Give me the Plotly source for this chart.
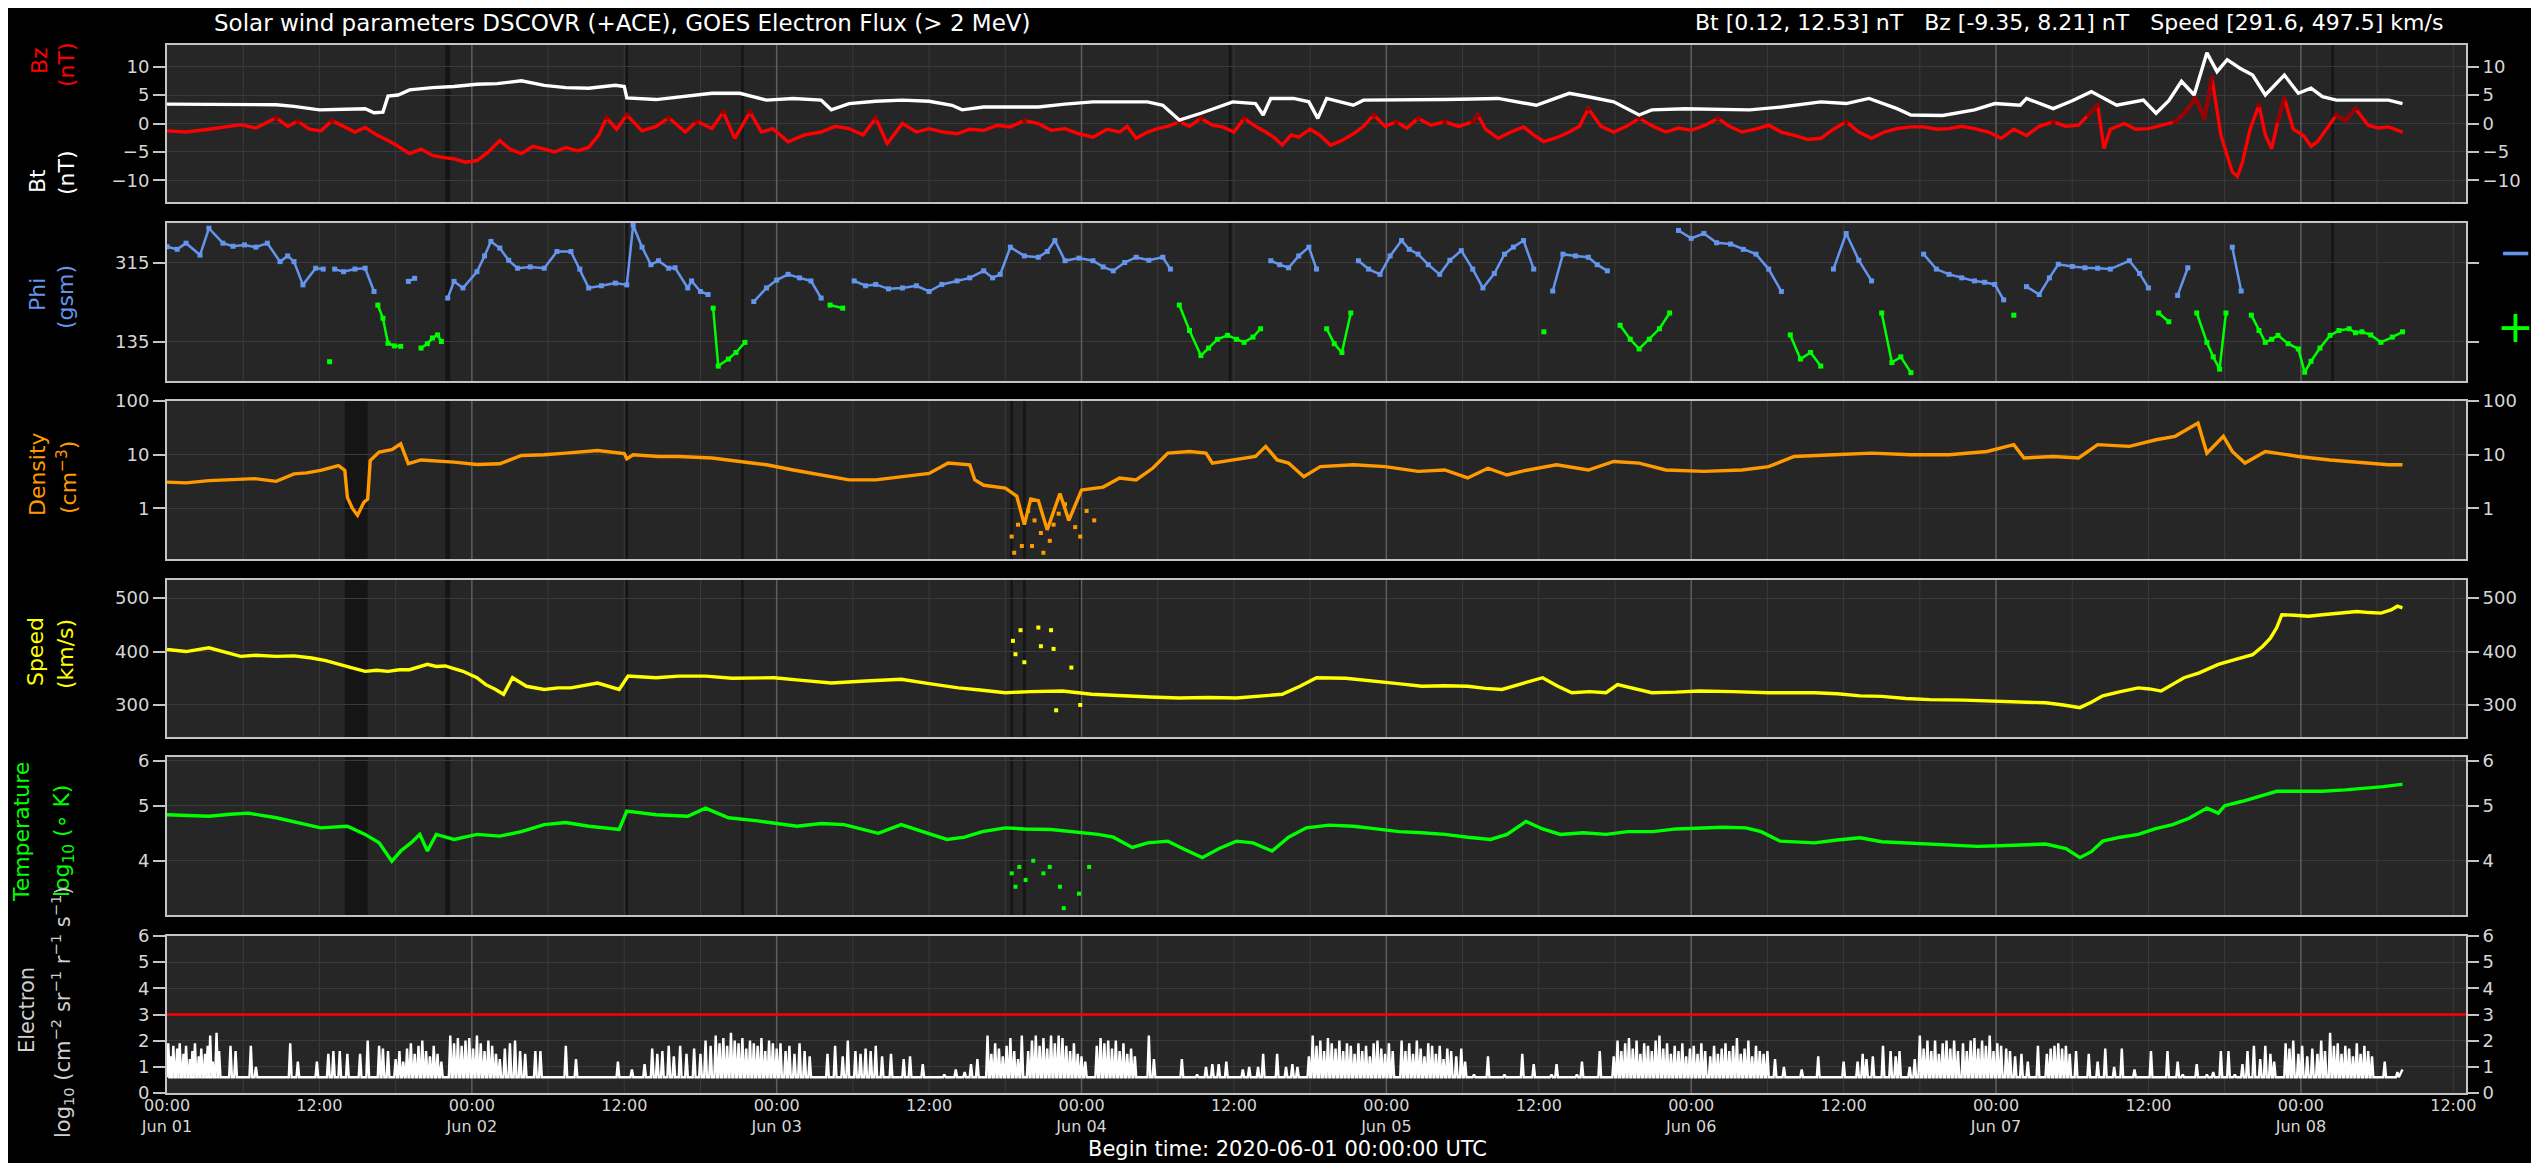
import numpy as np
import pandas as pd
import plotly.graph_objects as go

T0 = pd.Timestamp("2020-06-01 00:00")
T_END = pd.Timestamp("2020-06-08 13:00")

# ---------------- data (hours since 2020-06-01 00:00 UTC) ----------------
bt_t = [0, 3, 6, 8.6, 10, 12, 14, 15.6, 16.3, 17.0, 17.4, 18.2, 19.1, 20.9, 22.6, 24.4, 26, 27.9, 29.7, 31.4,
        33.2, 35.3, 36.0, 36.2, 38.5, 40.8, 42.9, 45.1, 47.2, 49.3, 51.5, 52.3, 53.7, 55.8, 57.9, 60, 61.8, 62.6,
        64.3, 66.5, 68.6, 70.7, 72.9, 75, 77.2, 78.4, 79.7, 81.4, 82.7, 83.9, 85.7, 86.3, 86.9, 88.7, 89.9, 90.6,
        91.3, 93.4, 94.2, 96.3, 98.5, 100.6, 102.8, 104.8, 107.8, 110.4, 111.9, 113.9, 115.9, 116.9, 119.5, 122.1,
        124.6, 127.1, 130.2, 132.2, 134, 136.2, 137.3, 139.8, 142.3, 143.9, 145.9, 146.4, 148.5, 150, 151.5, 153.5,
        155.6, 156.6, 157.6, 158.6, 159.6, 160.6, 161.4, 162.2, 163.2, 164.2, 165.2, 166.7, 167.8, 168.8, 169.7,
        170.8, 172.8, 174.9, 176]
bt_v = [3.4, 3.4, 3.3, 3.3, 3.0, 2.4, 2.5, 2.6, 1.9, 2.0, 4.8, 5.0, 5.9, 6.3, 6.5, 6.9, 7.0, 7.5, 6.7, 6.3,
        6.2, 6.7, 6.5, 4.5, 4.2, 4.8, 5.3, 5.3, 4.1, 4.4, 4.1, 2.4, 3.5, 3.9, 4.1, 3.9, 3.2, 2.4,
        2.9, 2.9, 2.9, 3.4, 3.8, 3.8, 3.8, 3.2, 0.6, 1.8, 2.9, 3.8, 3.5, 1.5, 4.4, 4.4, 3.8, 0.9,
        4.4, 3.2, 4.1, 4.1, 4.1, 4.2, 4.3, 4.4, 3.2, 5.3, 4.7, 3.8, 1.5, 2.4, 2.6, 2.5,
        2.4, 2.9, 3.8, 3.5, 4.4, 2.6, 1.5, 1.4, 2.4, 3.5, 3.2, 4.4, 2.6, 4.0, 5.6, 3.2,
        4.1, 1.8, 4.0, 7.4, 5.0, 12.4, 9.1, 11.2, 9.7, 8.5, 5.0, 8.5, 5.3, 6.2, 4.7,
        4.1, 4.1, 4.1, 3.5]

bz_t = [0, 1.5, 3.3, 5, 5.8, 7, 8.6, 9.5, 10.3, 11.2, 12.1, 13.0, 13.9, 14.8, 15.6, 16.5, 17.4, 18.2, 19.1, 20.0,
        20.9, 21.8, 22.6, 23.5, 24.4, 25.3, 26.2, 27.0, 27.9, 28.8, 29.7, 30.5, 31.4, 32.3, 33.2, 34.0, 34.6, 35.4,
        36.2, 37.4, 38.5, 39.5, 40.8, 41.7, 42.9, 43.8, 44.7, 45.9, 46.8, 47.7, 48.9, 50.2, 51.5, 52.6, 53.7, 54.8,
        55.8, 56.7, 57.9, 59.0, 60.0, 61.1, 62.2, 63.2, 64.3, 65.4, 66.4, 67.5, 68.6, 69.6, 70.7, 71.8, 72.9, 74.0,
        75.0, 75.6, 76.3, 77.2, 78.0, 78.9, 79.7, 80.5, 81.4, 82.3, 83.1, 84.0, 84.8, 85.7, 86.5, 87.2, 87.8, 88.5,
        89.1, 90.0, 90.8, 91.6, 92.5, 93.4, 94.2, 95.0, 95.9, 96.8, 97.6, 98.5, 99.5, 100.6, 101.7, 102.8, 103.2,
        103.8, 104.8, 105.8, 106.8, 107.6, 108.4, 109.4, 110.4, 111.2, 111.9, 112.9, 113.9, 114.9, 115.9, 117.0,
        118.0, 119.0, 120.0, 121.1, 122.1, 123.0, 124.0, 125.1, 126.1, 127.1, 128.1, 129.2, 130.2, 131.2, 132.2,
        133.2, 134.2, 135.2, 136.2, 137.3, 138.3, 139.3, 140.3, 141.3, 142.3, 143.4, 144.4, 145.4, 146.4, 147.4,
        148.5, 149.5, 150.5, 151.3, 152.0, 152.5, 153.0, 154.1, 155.0, 156.0, 157.0, 158.1, 158.9, 159.7, 160.4,
        161.0, 161.7, 162.2, 162.6, 163.0, 163.4, 164.0, 164.7, 165.2, 165.7, 166.2, 166.7, 167.4, 168.2, 168.8,
        169.3, 170.0, 170.8, 171.5, 172.3, 173.3, 174.1, 174.9, 176]
bz_v = [-1.3, -1.5, -1.0, -0.5, -0.2, -0.8, 1.0, -0.5, 0.4, -1.0, -1.3, 0.5, -0.5, -1.5, -0.7, -2.0, -3.0, -4.0, -5.3, -4.5,
        -5.6, -6.0, -6.2, -6.8, -6.5, -5.0, -3.0, -4.5, -5.3, -4.0, -4.5, -5.0, -4.2, -4.8, -4.2, -2.0, 1.0, -1.0,
        1.5, -1.3, -0.5, 1.0, -1.5, 0.4, -0.9, 2.0, -2.6, 2.0, -1.5, -0.9, -3.2, -2.0, -1.5, -0.5, -0.9, -2.0,
        0.9, -3.5, 0.0, -1.5, -0.9, -1.5, -1.8, -1.0, -1.2, -0.3, -0.6, 0.5, 0.0, -1.2, -0.9, -1.8, -2.4, -1.0,
        -1.5, -0.5, -2.6, -1.5, -0.9, -0.4, 0.3, -0.5, 0.9, -0.3, -0.6, -1.5, 0.9, -0.5, -1.5, -2.5, -3.8, -2.0,
        -2.4, -1.0, -2.1, -3.8, -3.0, -1.8, -0.5, 1.5, -0.5, 0.3, -0.8, 0.9, -0.3, 0.3, -0.5, 0.3, 1.5,
        -1.0, -2.6, -1.5, -0.6, -2.0, -3.2, -2.5, -1.5, -0.5, 2.6, -0.5, -1.5, -0.5, 0.9, -0.5,
        -1.5, -0.8, -1.2, -0.3, 0.9, -0.5, -1.5, -1.0, -0.3, -1.5, -2.1, -2.8, -2.6, -1.0, 0.3,
        -1.5, -2.6, -1.5, -0.9, -0.6, -0.6, -1.0, -0.9, -0.5, -0.9, -1.5, -2.6, -1.0, -2.1, -0.5,
        0.3, -0.5, -0.3, 1.5, 3.2, -4.4, -1.0, 0.0, -1.0, -0.9, -0.3, 0.3, 2.0, 4.4, 1.0,
        8.0, -2.0, -5.6, -8.5, -9.3, -6.8, -1.0, 3.2, -2.0, -4.4, 0.5, 4.4, -1.0, -2.1, -4.0,
        -3.2, -1.0, 1.5, 0.5, 2.6, -0.3, -0.8, -0.6, -1.5]

phi_t = [0, 0.8, 1.5, 2.6, 3.3, 4.4, 5.2, 6.1, 7.0, 7.9, 8.9, 9.5, 10.0, 10.7, 11.7, 12.3, 12.8, 13.2, 13.9, 14.8,
         15.6, 16.3, 16.6, 17.0, 17.4, 17.9, 18.4, 19.0, 19.5, 20.0, 20.5, 20.9, 21.3, 21.6, 22.1, 22.6, 23.3, 24.4,
         25.0, 25.5, 26.2, 26.9, 27.6, 28.6, 29.7, 30.7, 31.8, 32.5, 33.2, 34.2, 35.3, 36.2, 36.7, 37.4, 38.1, 38.7,
         39.5, 40.0, 41.0, 41.3, 42.0, 42.6, 43.0, 43.4, 44.2, 44.8, 45.5, 46.2, 47.2, 48.0, 48.9, 49.8, 50.7, 51.5,
         52.2, 53.2, 54.1, 55.0, 55.8, 56.8, 57.9, 59.0, 60.0, 61.0, 62.2, 63.2, 64.3, 65.0, 65.6, 66.4, 67.5, 68.6,
         69.3, 69.9, 70.7, 71.8, 72.9, 73.7, 74.5, 75.4, 76.3, 77.3, 78.4, 79.0, 79.7, 80.5, 81.4, 82.0, 82.7, 83.5,
         84.2, 84.8, 85.5, 86.1, 86.9, 87.6, 88.3, 89.1, 89.9, 90.5, 91.3, 91.9, 92.5, 93.2, 93.8, 94.6, 95.5, 96.3,
         97.2, 97.8, 98.5, 99.3, 100.2, 101.0, 101.9, 102.8, 103.6, 104.5, 105.3, 106.0, 106.8, 107.6, 108.4, 109.1,
         109.9, 110.9, 111.9, 112.6, 113.4, 114.4, 115.2, 115.9, 116.7, 117.5, 118.3, 119.0, 120.0, 121.0, 122.0,
         123.1, 124.1, 125.1, 126.1, 127.1, 127.8, 128.6, 129.4, 130.2, 131.2, 132.2, 133.2, 134.2, 135.0, 135.8,
         136.5, 137.3, 138.3, 139.3, 140.3, 141.3, 142.3, 143.1, 143.9, 144.6, 145.4, 146.4, 147.4, 148.2, 148.9,
         150.0, 151.0, 152.0, 153.0, 154.5, 155.3, 156.0, 156.8, 157.6, 158.3, 159.1, 159.8, 160.6, 161.1, 161.6,
         162.1, 162.6, 163.3, 164.1, 164.7, 165.2, 165.7, 166.2, 167.0, 167.8, 168.3, 168.8, 169.5, 170.3, 171.0,
         171.8, 172.3, 172.8, 173.5, 174.3, 175.2, 176]
phi_v = [351, 345, 359, 332, 393, 359, 352, 355, 350, 359, 317, 330, 317, 264, 302, 300, 89, 300, 294, 300,
         302, 249, 218, 188, 131, 125, 124, 272, 279, 120, 130, 143, 150, 135, 234, 272, 257, 294,
         330, 363, 348, 320, 302, 305, 302, 340, 340, 300, 257, 262, 268, 264, 400, 350, 310, 319,
         302, 303, 257, 273, 249, 242, 211, 79, 95, 110, 133, 226, 257, 275, 288, 280, 273, 234,
         218, 211, 273, 262, 265, 255, 257, 262, 249, 265, 273, 280, 296, 280, 288, 350, 330, 327,
         340, 365, 319, 325, 319, 305, 296, 315, 327, 320, 327, 300, 218, 160, 103, 120, 140, 149,
         140, 133, 145, 164, 319, 310, 303, 330, 350, 300, 164, 130, 110, 200, 319, 300, 288, 330,
         365, 345, 334, 310, 288, 320, 342, 300, 257, 290, 334, 350, 365, 300, 157, 250,
         334, 330, 327, 310, 296, 172, 140, 118, 140, 164, 200, 388, 370, 381, 360,
         357, 345, 334, 300, 249, 150, 95, 110, 79, 300, 381, 320, 273, 200, 87,
         100, 64, 334, 300, 288, 280, 273, 270, 265, 230, 195, 260, 242, 280, 311,
         306, 303, 302, 300, 319, 290, 257, 200, 180, 240, 303, 200, 133, 100, 72,
         200, 350, 250, 195, 160, 133, 140, 149, 130, 118, 65, 90, 120, 149, 160,
         164, 155, 157, 150, 133, 145, 157]

dens_t = [0, 1.5, 3.3, 5.0, 6.9, 8.6, 10.0, 11.0, 12.1, 13.5, 14.0, 14.2, 14.6, 15.0, 15.5, 15.8, 16.0, 16.7, 17.7,
          18.4, 19.0, 20.0, 20.9, 22.6, 24.4, 26.2, 27.9, 29.7, 31.4, 33.9, 36.0, 36.2, 36.7, 38.7, 40.3, 42.9, 45.1,
          47.2, 49.3, 51.5, 53.7, 55.8, 57.9, 60.0, 61.5, 63.2, 63.6, 64.3, 66.0, 66.9, 67.5, 68.0, 68.6, 69.3, 70.3,
          71.0, 72.0, 73.7, 75.0, 76.3, 77.6, 78.8, 80.5, 81.8, 82.3, 83.9, 85.7, 86.5, 87.4, 88.3, 89.5, 90.8, 93.4,
          95.9, 98.5, 100.6, 102.4, 104.0, 105.5, 106.8, 109.4, 111.9, 113.9, 115.9, 118.0, 121.0, 124.0, 126.1,
          128.1, 131.2, 134.2, 137.3, 140.3, 143.3, 145.4, 146.2, 148.5, 150.5, 152.0, 154.5, 156.6, 158.1, 159.9,
          160.6, 161.9, 162.6, 163.6, 165.2, 167.8, 170.3, 172.8, 174.9, 176]
dens_v = [3.1, 3.0, 3.3, 3.4, 3.6, 3.2, 4.4, 4.6, 5.1, 6.3, 5.1, 1.6, 1.0, 0.75, 1.3, 1.5, 7.8, 11.2, 12.4,
          16.0, 6.8, 8.0, 7.8, 7.3, 6.6, 6.8, 9.7, 10.0, 10.7, 12.0, 10.5, 8.4, 10.0, 9.3, 9.3, 8.7, 7.5,
          6.5, 5.2, 4.2, 3.4, 3.4, 3.9, 4.5, 7.0, 6.5, 3.4, 2.7, 2.4, 1.7, 0.5, 1.5, 1.4, 0.4, 1.9,
          0.6, 2.2, 2.5, 3.7, 3.4, 5.6, 10.7, 11.5, 10.7, 7.0, 8.0, 9.3, 14.3, 8.0, 7.0, 3.9, 6.0, 6.5,
          6.0, 4.9, 5.2, 3.7, 5.6, 4.2, 5.0, 6.5, 5.2, 7.5, 7.0, 5.2, 4.9, 5.2, 6.0,
          9.3, 10.0, 10.7, 10.0, 10.0, 11.5, 15.4, 8.7, 9.3, 8.7, 15.4, 14.3, 19.0, 22.0, 39.0,
          10.7, 22.0, 11.5, 7.0, 11.5, 9.3, 8.0, 7.2, 6.5, 6.5]
dens_sc_t = [66.5, 67.0, 67.3, 67.8, 68.3, 68.8, 69.5, 69.8, 70.2, 70.7, 71.5, 71.9, 72.4, 73.0, 66.7, 68.1, 69.0]
dens_sc_v = [0.3, 0.5, 0.2, 0.9, 0.6, 0.35, 0.25, 0.5, 0.8, 1.2, 0.45, 0.3, 0.9, 0.6, 0.15, 0.2, 0.15]

spd_t = [0, 1.5, 3.3, 4.5, 5.8, 7.0, 8.6, 10.0, 11.4, 12.5, 13.5, 14.5, 15.6, 16.5, 17.4, 18.3, 19.1, 20.5, 21.2,
         21.9, 23.3, 24.4, 25.1, 25.8, 26.5, 27.2, 28.3, 29.7, 30.8, 31.8, 33.9, 35.6, 36.3, 38.5, 40.3, 42.4, 44.5,
         47.8, 50.0, 52.3, 55.0, 57.8, 60.0, 62.3, 64.0, 66.0, 68.0, 70.5, 72.8, 75.1, 77.4, 79.7, 82.0, 84.2, 86.0,
         87.8, 89.2, 90.5, 92.8, 95.1, 96.9, 98.8, 100.6, 102.4, 103.8, 105.1, 106.8, 108.3, 109.5, 110.6, 112.0,
         113.3, 114.2, 115.5, 116.9, 118.8, 120.6, 123.3, 126.1, 129.7, 131.5, 133.3, 135.0, 136.9, 138.8, 141.5,
         144.3, 146.1, 147.9, 149.3, 150.6, 151.5, 152.4, 153.8, 155.2, 156.1, 157.0, 158.0, 158.8, 160.0, 161.5,
         162.8, 164.2, 165.0, 165.6, 166.1, 166.5, 167.5, 168.6, 169.7, 171.0, 172.4, 173.4, 174.3, 175.1, 175.6, 176]
spd_v = [404, 400, 407, 400, 391, 393, 391, 392, 388, 383, 376, 370, 363, 365, 363, 366, 366, 376, 372,
         373, 363, 351, 338, 330, 320, 351, 335, 329, 332, 332, 341, 329, 354, 351, 354, 354, 350,
         351, 346, 341, 345, 348, 340, 332, 328, 323, 325, 326, 320, 317, 315, 313, 314, 313, 316,
         320, 335, 351, 350, 345, 340, 335, 336, 335, 331, 329, 340, 351, 335, 323, 325,
         323, 338, 330, 323, 324, 326, 325, 323, 323, 321, 317, 316, 312, 310, 309,
         307, 306, 304, 300, 295, 305, 317, 325, 332, 330, 326, 340, 351, 360, 376,
         385, 394, 410, 425, 445, 469, 468, 466, 469, 472, 475, 473, 472, 478, 485, 482]
spd_sc_t = [66.6, 66.8, 67.2, 67.5, 68.6, 68.8, 69.6, 69.8, 70.0, 71.2, 71.9]
spd_sc_v = [420, 395, 440, 380, 445, 410, 440, 405, 290, 370, 300]

temp_t = [0, 1.5, 3.3, 5.0, 6.4, 8.6, 10.3, 12.1, 14.2, 15.6, 16.7, 17.3, 17.7, 18.4, 19.2, 19.9, 20.5, 21.2,
          22.6, 24.4, 26.2, 27.9, 29.7, 31.4, 33.2, 35.6, 36.2, 38.5, 41.0, 42.4, 44.2, 46.5, 49.6, 51.5, 53.3,
          56.0, 57.8, 59.5, 61.4, 62.8, 64.2, 66.0, 67.5, 69.6, 71.5, 73.3, 74.5, 76.0, 77.2, 78.8, 80.0, 81.5,
          82.8, 84.2, 85.5, 87.0, 88.3, 89.7, 91.5, 93.4, 95.2, 97.0, 98.8, 100.6, 102.4, 104.2, 105.5, 107.0,
          108.3, 109.7, 111.5, 113.3, 115.0, 117.0, 118.8, 120.6, 122.5, 124.3, 125.5, 127.0, 128.5, 129.7, 131.5,
          133.3, 135.0, 137.0, 138.8, 140.6, 142.5, 144.3, 146.0, 147.9, 149.5, 150.6, 151.5, 152.4, 153.8, 155.2,
          156.5, 157.9, 159.2, 160.6, 161.5, 162.0, 163.4, 164.8, 166.1, 167.8, 169.7, 171.5, 173.4, 174.5, 175.6, 176]
temp_v = [4.82, 4.80, 4.79, 4.83, 4.85, 4.76, 4.67, 4.57, 4.60, 4.45, 4.30, 4.10, 3.99, 4.16, 4.30, 4.45, 4.16, 4.45,
          4.36, 4.45, 4.42, 4.50, 4.63, 4.67, 4.60, 4.54, 4.89, 4.82, 4.79, 4.95, 4.76, 4.70, 4.60, 4.65, 4.63,
          4.47, 4.63, 4.50, 4.36, 4.40, 4.50, 4.57, 4.55, 4.54, 4.50, 4.45, 4.40, 4.22, 4.30, 4.33, 4.20, 4.05,
          4.20, 4.33, 4.30, 4.16, 4.40, 4.57, 4.62, 4.60, 4.55, 4.50, 4.48, 4.45, 4.40, 4.36, 4.45, 4.69,
          4.55, 4.45, 4.48, 4.45, 4.50, 4.50, 4.55, 4.57, 4.58, 4.57, 4.50, 4.33, 4.32, 4.30, 4.35,
          4.39, 4.32, 4.30, 4.28, 4.25, 4.24, 4.25, 4.27, 4.28, 4.20, 4.05, 4.15, 4.33, 4.40, 4.45,
          4.55, 4.63, 4.75, 4.95, 4.85, 5.00, 5.09, 5.20, 5.30, 5.30, 5.30, 5.33, 5.37, 5.40, 5.44, 5.45]
temp_sc_t = [66.5, 66.8, 67.1, 67.6, 68.2, 69.0, 69.5, 70.3, 70.6, 71.8, 72.6]
temp_sc_v = [3.8, 3.6, 3.9, 3.7, 4.0, 3.8, 3.9, 3.6, 3.3, 3.5, 3.9]

elec_base = 0.6
elec_spike_t = [0.1, 0.3, 0.5, 0.8, 1.0, 1.3, 1.5, 1.8, 2.0, 2.2, 2.5, 2.7, 3.0, 3.2, 3.4, 3.6, 3.9, 4.1,
    5.0, 5.4, 6.6, 7.0, 9.7, 10.3, 11.8, 12.7, 13.1, 13.6, 14.2, 15.2, 15.8, 16.7, 17.0, 17.4,
    18.0, 18.3, 18.6, 18.9, 19.2, 19.5, 19.8, 20.1, 20.4, 20.7, 21.0, 21.3, 21.6,
    22.3, 22.6, 22.9, 23.2, 23.5, 23.8, 24.1, 24.4, 24.7, 25.0, 25.3, 25.6, 25.9, 26.2,
    26.6, 27.0, 27.4, 27.8, 28.2, 29.0, 29.4, 31.4, 32.2, 35.5, 36.6, 37.6,
    38.2, 38.6, 39.0, 39.5, 39.9, 40.4, 40.9, 41.5,
    42.0, 42.4, 42.8, 43.2, 43.5, 43.8, 44.1, 44.4, 44.7, 45.0, 45.3, 45.6, 45.9, 46.2, 46.5, 46.8, 47.1, 47.4,
    47.7, 48.0, 48.3, 48.7, 49.0, 49.4, 49.8, 50.2, 50.6,
    52.0, 52.6, 53.2, 53.6, 54.2, 54.6, 55.0, 55.4, 55.8, 56.3, 57.0,
    58.0, 58.5, 59.5, 61.2, 62.1, 62.8, 63.3, 63.8,
    64.6, 64.9, 65.2, 65.5, 65.8, 66.1, 66.4, 66.7, 67.0, 67.3,
    67.8, 68.1, 68.4, 68.7, 69.0, 69.3, 69.6, 69.9, 70.2, 70.5, 70.8, 71.1, 71.4, 71.7, 72.0, 72.3,
    73.2, 73.5, 73.8, 74.1, 74.4, 74.7, 75.0, 75.3, 75.6, 75.9, 76.2,
    77.3, 77.7, 79.9, 81.1, 81.8, 82.3, 82.8, 83.4, 84.7, 85.2, 85.9, 86.3, 87.4, 88.1, 88.6, 89.0,
    89.9, 90.2, 90.5, 90.8, 91.1, 91.4, 91.7, 92.0, 92.3, 92.6, 92.9, 93.2, 93.5, 93.8, 94.1, 94.4, 94.7,
    95.0, 95.3, 95.6, 95.9, 96.2, 96.5,
    97.2, 97.5, 97.8, 98.1, 98.4, 98.7, 99.0, 99.3, 99.6, 99.9, 100.2, 100.5, 100.8, 101.1, 101.5, 101.9, 102.2,
    102.9, 104.0, 105.3, 106.7, 107.6, 109.0, 109.4, 111.0, 111.4, 112.8,
    113.9, 114.2, 114.5, 114.8, 115.1, 115.4, 115.7, 116.0, 116.3, 116.6, 116.9, 117.2, 117.5, 117.8, 118.1,
    118.4, 118.7, 119.0, 119.3, 119.6, 119.9, 120.2, 120.5, 120.8, 121.1,
    121.5, 121.8, 122.1, 122.4, 122.7, 123.0, 123.3, 123.6, 123.9, 124.2, 124.5, 124.8, 125.1, 125.4, 125.7,
    126.0, 126.6,
    127.3, 128.7, 130.0, 132.0, 133.1, 133.5, 133.8, 134.3, 135.1, 135.7, 136.1, 136.4, 137.2, 137.6,
    138.0, 138.3, 138.6, 138.9, 139.2, 139.5, 139.8, 140.1, 140.4, 140.7, 141.0,
    141.4, 141.7, 142.0, 142.3, 142.6, 142.9, 143.2, 143.5, 143.8, 144.1, 144.4, 144.8,
    145.1, 145.5, 146.0, 146.5, 147.3, 148.0, 148.3, 148.6, 148.9, 149.2, 149.5, 149.8, 150.3, 151.3, 152.0,
    152.6, 153.3, 153.9, 154.9, 156.2, 157.5, 158.3, 158.7, 159.8, 160.6, 161.1, 161.7, 162.3, 162.8,
    163.4, 163.8, 164.3, 164.8, 165.2, 165.6, 165.9,
    166.8, 167.1, 167.4, 167.8, 168.1, 168.5, 168.9, 169.3,
    169.6, 169.9, 170.3, 170.6, 170.9, 171.2, 171.5, 171.8, 172.1, 172.4, 172.7, 173.0, 173.3, 173.6,
    174.6, 175.6]
elec_spike_v = [1.9, 1.4, 1.8, 1.7, 1.9, 1.5, 1.8, 1.3, 1.6, 1.9, 1.4, 1.7, 1.5, 1.8, 2.2, 1.2, 2.3, 1.6,
    1.8, 1.6, 1.8, 1.0, 1.9, 1.2, 1.2, 1.5, 1.6, 1.6, 1.5, 1.5, 2.0, 1.8, 1.7, 1.6,
    1.3, 1.6, 1.2, 1.7, 1.9, 1.5, 1.8, 2.0, 1.6, 1.4, 1.8, 1.5, 1.2,
    2.2, 1.9, 2.1, 1.8, 2.0, 2.1, 1.7, 2.2, 1.9, 1.6, 2.0, 1.8, 1.5, 1.3,
    1.7, 1.9, 2.0, 1.6, 1.5, 1.6, 1.6, 1.8, 1.3, 1.2, 0.9, 1.1,
    1.7, 1.5, 1.6, 1.8, 1.4, 1.8, 1.5, 1.7,
    1.5, 2.0, 1.8, 2.2, 1.9, 2.1, 1.8, 2.3, 2.0, 1.9, 2.1, 1.7, 2.0, 1.9, 1.8, 2.1, 1.6, 2.0,
    1.9, 1.7, 1.9, 1.6, 1.8, 1.5, 1.9, 1.6, 1.4,
    1.5, 1.8, 1.4, 2.0, 1.6, 1.5, 1.7, 1.6, 1.8, 1.4, 1.5,
    1.3, 1.4, 1.1, 0.7, 0.9, 0.8, 1.1, 1.3,
    2.2, 1.5, 1.9, 1.7, 1.4, 1.8, 2.1, 1.6, 1.3, 2.2,
    1.6, 2.0, 2.2, 1.8, 2.1, 1.7, 2.2, 1.9, 2.2, 2.1, 1.8, 1.6, 1.9, 1.5, 1.4, 1.2,
    1.8, 2.1, 1.9, 2.0, 1.7, 2.0, 1.6, 1.9, 1.5, 1.7, 1.4,
    2.2, 1.3, 1.3, 0.7, 1.0, 1.1, 1.1, 1.2, 0.9, 1.0, 1.0, 1.5, 1.5, 1.0, 1.1, 1.0,
    1.4, 2.2, 1.8, 2.0, 1.6, 2.1, 1.9, 1.7, 2.0, 1.6, 1.9, 1.8, 1.5, 1.9, 1.6, 1.8, 1.4,
    1.9, 2.0, 1.7, 1.5, 1.9, 1.6,
    2.0, 1.6, 1.9, 1.5, 2.0, 1.7, 1.4, 1.9, 1.8, 1.5, 1.8, 1.3, 1.7, 1.6, 1.4, 1.7, 1.2,
    0.7, 1.4, 0.7, 1.5, 1.1, 0.7, 1.1, 0.7, 1.2, 1.6,
    1.4, 2.0, 1.6, 1.9, 2.1, 1.7, 2.0, 1.5, 1.9, 1.8, 1.6, 2.0, 2.2, 1.7, 1.9,
    1.5, 1.8, 1.6, 1.9, 1.4, 1.7, 1.8, 1.5, 1.9, 1.6,
    1.4, 1.8, 1.5, 1.7, 1.9, 1.6, 1.8, 2.1, 1.5, 1.7, 2.0, 1.4, 1.8, 1.6, 1.5,
    1.6, 1.3,
    1.0, 0.9, 1.4, 1.2, 1.2, 1.5, 1.3, 1.4, 1.8, 1.6, 1.4, 1.6, 1.0, 1.3,
    2.2, 1.7, 2.0, 1.6, 2.0, 1.5, 1.9, 2.0, 1.7, 2.0, 1.6,
    1.9, 1.6, 2.0, 2.1, 1.7, 2.0, 1.8, 2.2, 1.6, 1.9, 1.8, 1.7,
    1.6, 1.4, 1.5, 1.2, 1.8, 1.5, 1.7, 1.8, 1.9, 1.7, 1.8, 1.5, 1.6, 1.5, 1.2,
    1.7, 1.0, 1.7, 0.9, 1.6, 1.6, 1.2, 0.7, 1.1, 0.7, 0.8, 1.6, 1.6, 0.7,
    1.1, 1.6, 1.8, 1.3, 1.8, 1.5, 1.2,
    1.9, 1.7, 2.0, 1.5, 1.8, 1.4, 1.7, 1.5,
    2.0, 1.6, 2.3, 1.8, 1.9, 1.5, 1.8, 1.7, 1.4, 1.9, 1.5, 1.8, 1.6, 1.4,
    1.2, 0.8]
elec_end_t = [176.0]
elec_end_v = [0.9]
elec_threshold = 3

# shaded data-gap / source bands (hours), panels they apply to
band_t0 = [14.0, 21.9, 36.1, 45.2, 66.4, 67.4, 71.8, 83.6, 170.4]
band_t1 = [15.8, 22.3, 36.3, 45.4, 66.6, 67.6, 72.0, 83.8, 170.6]
band_panels = [[3, 4, 5], [1, 2, 3, 4, 5], [1, 2, 3, 4, 5], [1, 2, 3, 4, 5], [3, 4, 5], [3, 4, 5], [3, 4, 5],
               [1, 2], [1, 2]]

# ---------------- helpers ----------------
def tt(hours):
    return [T0 + pd.Timedelta(hours=float(h)) for h in hours]

def xn(i):
    return "x" if i == 1 else "x%d" % i

def yn(i):
    return "y" if i == 1 else "y%d" % i

FONT = "DejaVu Sans, Noto Sans, sans-serif"
TICKC = "#d6d6d6"
GRIDC = "#3a3a3a"
DAYC = "#5e5e5e"
LINEC = "#c4c4c4"
BG = "#262626"

yspecs = [
    dict(type="linear", range=[-13.78, 13.78], tickvals=[-10, -5, 0, 5, 10]),
    dict(type="linear", range=[45, 405], tickvals=[135, 315]),
    dict(type="log", range=[-0.94, 2.0], tickvals=[1, 10, 100]),
    dict(type="linear", range=[240, 534], tickvals=[300, 400, 500]),
    dict(type="log", range=[float(np.log10(3.21)), float(np.log10(6.09))], tickvals=[4, 5, 6]),
    dict(type="linear", range=[0, 6], tickvals=[0, 1, 2, 3, 4, 5, 6]),
]

fig = go.Figure()

def add(x, y, i, **kw):
    fig.add_trace(go.Scatter(x=x, y=y, xaxis=xn(i), yaxis=yn(i), showlegend=False, hoverinfo="skip", **kw))

# vertical grid lines (every 6 h dim, each midnight brighter), drawn first in each panel
grid_hours_dim = [h for h in range(6, 7 * 24 + 13, 6) if h % 24 != 0]
grid_hours_day = [h for h in range(24, 7 * 24 + 1, 24)]
for i in range(1, 7):
    s = yspecs[i - 1]
    lo, hi = s["range"]
    if s["type"] == "log":
        lo, hi = 10 ** lo, 10 ** hi
    for hours, col, w in ((grid_hours_dim, GRIDC, 1), (grid_hours_day, DAYC, 1.5)):
        gx, gy = [], []
        for h in hours:
            ts = T0 + pd.Timedelta(hours=h)
            gx += [ts, ts, None]
            gy += [lo, hi, None]
        add(gx, gy, i, mode="lines", line=dict(color=col, width=w))

# panel 1: Bz / Bt
add(tt(bz_t), bz_v, 1, mode="lines", line=dict(color="#ff0000", width=3.4))
bz_pos = [v if v > 0 else None for v in bz_v]
add(tt(bz_t), bz_pos, 1, mode="lines+markers", line=dict(color="#9a0000", width=3.4),
    marker=dict(color="#9a0000", size=5))
add(tt(bt_t), bt_v, 1, mode="lines", line=dict(color="#ffffff", width=3.4))

# panel 2: Phi
phi_blue = [v if v >= 225 else None for v in phi_v]
phi_green = [v if v < 225 else None for v in phi_v]
add(tt(phi_t), phi_blue, 2, mode="lines+markers", line=dict(color="#6495ed", width=2.5),
    marker=dict(color="#6495ed", size=5, symbol="square"))
add(tt(phi_t), phi_green, 2, mode="lines+markers", line=dict(color="#00ff00", width=2.5),
    marker=dict(color="#00ff00", size=5, symbol="square"))

# panel 3: density
add(tt(dens_t), dens_v, 3, mode="lines", line=dict(color="#ff9900", width=3.4))
add(tt(dens_sc_t), dens_sc_v, 3, mode="markers", marker=dict(color="#ff9900", size=4, symbol="square"))

# panel 4: speed
add(tt(spd_t), spd_v, 4, mode="lines", line=dict(color="#ffff00", width=3.4))
add(tt(spd_sc_t), spd_sc_v, 4, mode="markers", marker=dict(color="#ffff00", size=4, symbol="square"))

# panel 5: temperature
add(tt(temp_t), temp_v, 5, mode="lines", line=dict(color="#00ff00", width=3.4))
add(tt(temp_sc_t), temp_sc_v, 5, mode="markers", marker=dict(color="#00ff00", size=4, symbol="square"))

# panel 6: electron flux + threshold
add([T0, T_END], [elec_threshold, elec_threshold], 6, mode="lines", line=dict(color="#ff0000", width=2.5))
ex, ey = [0.0], [elec_base]
for t, v in zip(elec_spike_t, elec_spike_v):
    ex += [t - 0.11, t, t + 0.11]
    ey += [elec_base, v, elec_base]
ex += elec_end_t
ey += elec_end_v
add(tt(ex), ey, 6, mode="lines", line=dict(color="#ffffff", width=2.4))

# ---------------- axes ----------------
panels_px = [(37, 194), (215, 373), (393, 551), (572, 729), (749, 907), (928, 1085)]
H = 1048.0
doms = [[(1085 - b) / H, (1085 - t) / H] for t, b in panels_px]

label_hours = list(range(0, 7 * 24 + 13, 12))
label_vals = tt(label_hours)
label_text = []
for h in label_hours:
    ts = T0 + pd.Timedelta(hours=h)
    if h % 24 == 0:
        label_text.append(ts.strftime("%H:%M") + "<br>" + ts.strftime("%b %d"))
    else:
        label_text.append(ts.strftime("%H:%M"))

layout = dict(
    width=2539, height=1163,
    paper_bgcolor="#000000", plot_bgcolor=BG,
    margin=dict(l=159, r=81, t=37, b=78),
    font=dict(family=FONT, color=TICKC),
    showlegend=False,
)

for i in range(1, 7):
    xa = dict(domain=[0, 1], anchor=yn(i), type="date", range=[T0, T_END],
              tickmode="array", tickvals=label_vals, ticktext=label_text,
              showticklabels=(i == 6), ticks="", showgrid=False,
              showline=True, mirror=True, linecolor=LINEC, linewidth=2, zeroline=False,
              ticklabelstandoff=-3,
              tickfont=dict(size=16, color=TICKC, family=FONT))
    if i > 1:
        xa["matches"] = "x"
    layout["xaxis" if i == 1 else "xaxis%d" % i] = xa
    s = yspecs[i - 1]
    ya = dict(domain=doms[i - 1], anchor=xn(i), type=s["type"], range=s["range"],
              tickmode="array", tickvals=s["tickvals"], ticks="outside", ticklen=12, tickwidth=1.5,
              tickcolor=LINEC, showgrid=True, gridcolor=GRIDC, gridwidth=1, showline=True, mirror=True,
              linecolor=LINEC, linewidth=2, zeroline=False,
              tickfont=dict(size=18, color=TICKC, family=FONT))
    layout["yaxis" if i == 1 else "yaxis%d" % i] = ya
    yr = dict(overlaying=yn(i), side="right", anchor=xn(i), type=s["type"], range=s["range"],
              tickmode="array", tickvals=s["tickvals"], ticks="outside", ticklen=12, tickwidth=1.5,
              tickcolor=LINEC, showgrid=False, showline=False, zeroline=False,
              showticklabels=(i != 2),
              tickfont=dict(size=18, color=TICKC, family=FONT))
    layout["yaxis%d" % (i + 6)] = yr
    # invisible trace to anchor the right axis
    fig.add_trace(go.Scatter(x=[T0], y=[s["tickvals"][-1]], mode="markers", marker=dict(opacity=0),
                             xaxis=xn(i), yaxis="y%d" % (i + 6), showlegend=False, hoverinfo="skip"))

fig.update_layout(**layout)

# ---------------- shaded bands ----------------
shapes = []
for t0, t1, pans in zip(band_t0, band_t1, band_panels):
    for p in pans:
        shapes.append(dict(type="rect", xref=xn(p), yref=yn(p) + " domain",
                           x0=T0 + pd.Timedelta(hours=t0), x1=T0 + pd.Timedelta(hours=t1), y0=0, y1=1,
                           fillcolor="#151515", line=dict(width=0), layer="below"))
fig.update_layout(shapes=shapes)

# ---------------- annotations ----------------
def px_x(px):
    return (px - 159) / 2300.0

def px_y(py):
    return (1085 - py) / H

ann = []
nb = "\u00a0"
ann.append(dict(text="Solar wind parameters DSCOVR (+ACE), GOES Electron Flux (> 2 MeV)",
                x=px_x(204), y=px_y(15), xref="paper", yref="paper", xanchor="left", yanchor="middle",
                showarrow=False, font=dict(size=23, color="#ffffff", family=FONT)))
ann.append(dict(text="Bt [0.12, 12.53] nT" + nb * 3 + "Bz [-9.35, 8.21] nT" + nb * 3 + "Speed [291.6, 497.5] km/s",
                x=px_x(2438), y=px_y(15), xref="paper", yref="paper", xanchor="right", yanchor="middle",
                showarrow=False, font=dict(size=22, color="#ffffff", family=FONT)))
ann.append(dict(text="Begin time: 2020-06-01 00:00:00 UTC",
                x=px_x(1280), y=px_y(1141), xref="paper", yref="paper", xanchor="center", yanchor="middle",
                showarrow=False, font=dict(size=21, color="#ffffff", family=FONT)))

# rotated axis titles, one annotation per line: (text, colour, x_px, y_px, size)
ylabels = [
    ("Bz", "#ff0000", 31, 53, 22),
    ("(nT)", "#ff0000", 59, 57, 22),
    ("Bt", "#ffffff", 29, 173, 22),
    ("(nT)", "#ffffff", 58, 165, 22),
    ("Phi", "#6495ed", 29, 287, 22),
    ("(gsm)", "#6495ed", 57, 289, 22),
    ("Density", "#ff9900", 29, 466, 22),
    ("(cm<sup>\u22123</sup>)", "#ff9900", 59, 470, 22),
    ("Speed", "#ffff00", 28, 644, 22),
    ("(km/s)", "#ffff00", 57, 646, 22),
    ("Temperature", "#00ff00", 14, 824, 22),
    ("log<sub>10</sub> (\u2218 K)", "#00ff00", 55, 833, 22),
    ("Electron", "#d0d0d0", 19, 1002, 21),
    ("log<sub>10</sub> (cm<sup>\u22122</sup> sr<sup>\u22121</sup> r<sup>\u22121</sup> s<sup>\u22121</sup>)",
     "#d0d0d0", 54, 1004, 21),
]
for txt, col, xp, yp, fs in ylabels:
    ann.append(dict(text=txt, x=px_x(xp), y=px_y(yp), xref="paper", yref="paper", xanchor="center",
                    yanchor="middle", textangle=-90, showarrow=False,
                    font=dict(size=fs, color=col, family=FONT)))

ann.append(dict(text="\u2212", x=px_x(2490), y=px_y(244), xref="paper", yref="paper", xanchor="left",
                yanchor="middle", showarrow=False, font=dict(size=40, color="#6495ed", family=FONT)))
ann.append(dict(text="+", x=px_x(2488), y=px_y(318), xref="paper", yref="paper", xanchor="left",
                yanchor="middle", showarrow=False, font=dict(size=44, color="#00ff00", family=FONT)))
fig.update_layout(annotations=ann)

fig.write_html("out.html")
